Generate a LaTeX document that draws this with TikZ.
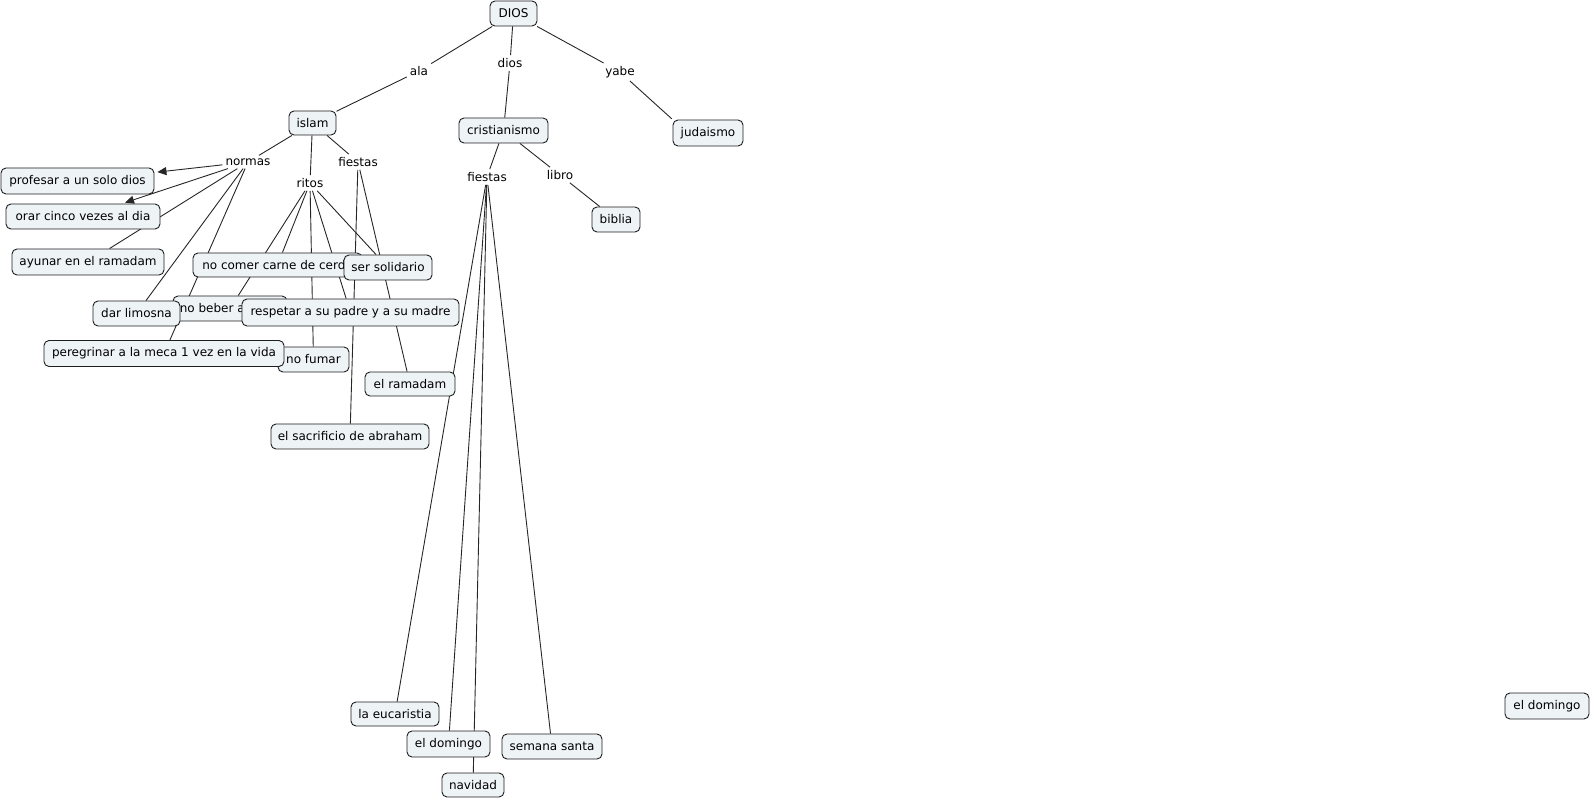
\documentclass[tikz,border=0pt]{standalone}
\usepackage{fontspec}
\setmainfont{DejaVu Sans}
\usetikzlibrary{arrows.meta}
\pgfdeclarelayer{bg}
\pgfsetlayers{bg,main}
\definecolor{boxfill}{RGB}{238,243,246}
\definecolor{boxline}{RGB}{30,30,30}
\begin{document}
\begin{tikzpicture}[x=1pt,y=-1pt,
  concept/.style={draw=boxline, fill=boxfill, rounded corners=5pt, line width=0.9pt, inner sep=0pt, font=\fontsize{12}{14}\selectfont},
  linklabel/.style={inner sep=3pt, font=\fontsize{12}{14}\selectfont},
  conn/.style={line width=0.9pt, draw=black!85},
  arr/.style={conn, -{Triangle[length=9pt,width=8pt]}, shorten >=3pt}]
\useasboundingbox (0,0) rectangle (1591,799);
% concepts
\node[concept, minimum width=47pt, minimum height=25pt] (DIOS) at (513.5,13.5) {DIOS};
\node[concept, minimum width=47pt, minimum height=24pt] (islam) at (312.5,123) {islam};
\node[concept, minimum width=89pt, minimum height=25pt] (crist) at (503.5,130.5) {cristianismo};
\node[concept, minimum width=70pt, minimum height=26pt] (juda) at (708,133) {judaismo};
\node[concept, minimum width=48pt, minimum height=25pt] (biblia) at (616,219.5) {biblia};
\node[concept, minimum width=153pt, minimum height=26pt] (prof) at (77.5,181) {profesar a un solo dios};
\node[concept, minimum width=154pt, minimum height=25pt] (orar) at (83,216.5) {orar cinco vezes al dia};
\node[concept, minimum width=152pt, minimum height=26pt] (ayun) at (88,262) {ayunar en el ramadam};
\node[concept, minimum width=169pt, minimum height=24pt] (comer) at (277.5,265) {no comer carne de cerdo};
\node[concept, minimum width=88pt, minimum height=25pt] (solid) at (388,267.5) {ser solidario};
\node[concept, minimum width=114pt, minimum height=25pt] (beber) at (230,308.5) {no beber alcohol};
\node[concept, minimum width=87pt, minimum height=25pt] (limos) at (136.5,313.5) {dar limosna};
\node[concept, minimum width=217pt, minimum height=27pt] (resp) at (350.5,312.5) {respetar a su padre y a su madre};
\node[concept, minimum width=71pt, minimum height=25pt] (fumar) at (313.5,359.5) {no fumar};
\node[concept, minimum width=240pt, minimum height=26pt] (pereg) at (164,353.5) {peregrinar a la meca 1 vez en la vida};
\node[concept, minimum width=90pt, minimum height=24pt] (ramad) at (410,384) {el ramadam};
\node[concept, minimum width=158pt, minimum height=25pt] (sacri) at (350,436.5) {el sacrificio de abraham};
\node[concept, minimum width=88pt, minimum height=24pt] (euca) at (395,714) {la eucaristia};
\node[concept, minimum width=83pt, minimum height=26pt] (dom) at (448.5,744) {el domingo};
\node[concept, minimum width=100pt, minimum height=25pt] (seman) at (552,746.5) {semana santa};
\node[concept, minimum width=62pt, minimum height=24pt] (navid) at (473,785) {navidad};
\node[concept, minimum width=84pt, minimum height=26pt] (domb) at (1547,706) {el domingo};
% linking phrases
\node[linklabel] (ala) at (419,71) {ala};
\node[linklabel] (ldios) at (510,63) {dios};
\node[linklabel] (yabe) at (620,72) {yabe};
\node[linklabel] (normas) at (248,162) {normas};
\node[linklabel] (ritos) at (310,183) {ritos};
\node[linklabel] (fiesI) at (358,162) {fiestas};
\node[linklabel] (fiesC) at (487,177) {fiestas};
\node[linklabel] (libro) at (560,175) {libro};
% connectors
\begin{pgfonlayer}{bg}
\draw[conn] (DIOS) -- (ala);
\draw[conn] (ala) -- (islam);
\draw[conn] (DIOS) -- (ldios);
\draw[conn] (ldios) -- (crist);
\draw[conn] (DIOS) -- (yabe);
\draw[conn, shorten >=1pt] (yabe) -- (juda.north west);
\draw[conn] (islam) -- (normas);
\draw[conn] (islam) -- (ritos);
\draw[conn] (islam) -- (fiesI);
\draw[arr] (normas) -- (prof);
\draw[arr] (normas) -- (orar);
\draw[conn] (normas) -- (ayun);
\draw[conn] (normas) -- (limos);
\draw[conn] (normas) -- (pereg);
\draw[conn] (ritos) -- (comer);
\draw[conn] (ritos) -- (beber);
\draw[conn] (ritos) -- (fumar);
\draw[conn] (ritos) -- (resp);
\draw[conn] (ritos) -- (solid);
\draw[conn] (fiesI) -- (sacri);
\draw[conn] (fiesI) -- (ramad);
\draw[conn] (crist) -- (fiesC);
\draw[conn] (crist) -- (libro);
\draw[conn] (libro) -- (biblia);
\draw[conn] (fiesC) -- (euca);
\draw[conn] (fiesC) -- (dom);
\draw[conn] (fiesC) -- (navid);
\draw[conn] (fiesC) -- (seman);
\end{pgfonlayer}
\end{tikzpicture}
\end{document}
